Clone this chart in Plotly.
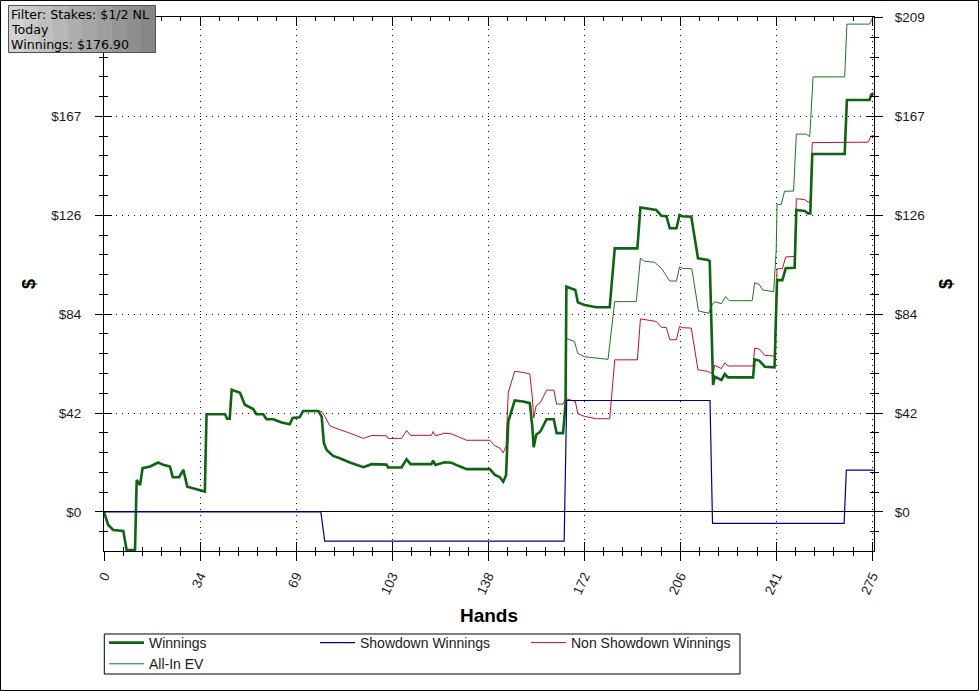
import plotly.graph_objects as go

# cumulative results as (hand, dollars) breakpoints
win_hands = [0, 1.5, 3.3, 6.9, 8.1, 11.1, 11.7, 12.9, 13.8, 16.5, 19.4, 21.2, 23.6, 24.6, 26.9,
             28.4, 29.8, 33.1, 36.1, 36.7, 43.3, 44.1, 45, 45.7, 48.7, 50.4, 53.4, 54.6, 57, 58.2,
             60.6, 63.6, 66.5, 67.5, 70, 71.3, 76.7, 77.9, 78.7, 79.7, 82, 84.4, 88, 92.8, 95.8,
             101.1, 101.7, 106.5, 108.3, 109.7, 117.2, 117.8, 118.6, 122, 124.4, 126.8, 129.8,
             138.1, 139.9, 141.7, 142.9, 143.9, 144.7, 147, 150, 152.4, 153.3, 153.8, 154.7, 156.2,
             158.4, 161, 162, 164.3, 165.2, 165.5, 168.7, 169.6, 172, 176.2, 181, 182.8, 190.9, 192,
             197.7, 199.5, 201.3, 202.5, 204.9, 206, 207, 210.2, 212.6, 216.2, 216.8, 218, 218.6,
             221, 222.2, 223.3, 232.3, 232.9, 234.5, 236.5, 240, 240.9, 242.8, 244, 247.2, 247.8,
             250.8, 252, 252.8, 253.5, 265.1, 265.9, 274, 274.6, 275.5]
win_vals = [0, -5.5, -7.6, -8, -16.1, -16.1, 13.5, 11.4, 18.5, 19.2, 20.9, 19.9, 19.2, 14.7, 14.7,
            17.8, 10.7, 9.6, 8.6, 41.3, 41.3, 39.4, 39.4, 51.6, 50.4, 45.3, 43.5, 41.3, 41.3, 39.2,
            39.2, 37.8, 37.1, 39.7, 40, 42.7, 42.7, 40.3, 29.1, 26.2, 23.7, 22.7, 20.9, 18.9, 20.2,
            20, 18.8, 18.8, 22.3, 20.2, 20.2, 21.7, 19.9, 21, 20.8, 19.5, 18.1,
            18.1, 15.7, 14.7, 12.8, 15.5, 38.2, 47.1, 46.7, 46, 36.1, 27.4, 32.6, 34,
            39.2, 39.2, 33.3, 33.3, 46, 95.2, 93.8, 88.6, 87.5, 86.5, 86.5, 111.4, 111.4, 128.7,
            127.6, 125.2, 125, 119.9, 119.9, 125.5, 125, 124.8, 107.2, 106.5, 106, 53.7, 57.2,
            55.8, 58.3, 56.9, 56.9, 64.5, 64, 61.4, 61.1, 98, 98, 103, 103.2, 127.6,
            127.2, 126.2, 126.2, 151.3, 151.3, 174.1, 174.1, 176.5, 176.9]

sd_hands = [0, 77.6, 79, 164.7, 165.6, 216.9, 217.8, 264.9, 265.7, 275.5]
sd_vals = [0, 0, -12.3, -12.3, 47.1, 47.1, -4.8, -4.8, 17.7, 17.7]

nsd_hands = [0, 1.5, 3.3, 6.9, 8.1, 11.1, 11.7, 12.9, 13.8, 16.5, 19.4, 21.2, 23.6, 24.6, 26.9,
             28.4, 29.8, 33.1, 36.1, 36.7, 43.3, 44.1, 45, 45.7, 48.7, 50.4, 53.4, 54.6, 57, 58.2,
             60.6, 63.6, 66.5, 67.5, 70, 71.3, 76.7, 77.9, 79.1, 80.8, 82, 84.4, 88, 92.8, 95.8,
             101.1, 101.7, 106.5, 108.3, 109.7, 117.2, 117.8, 118.6, 122, 124.4, 126.8, 129.8,
             138.1, 139.9, 141.7, 142.9, 143.9, 144.7, 147, 150, 152.4, 153.3, 153.8, 154.7, 156.2,
             158.4, 161, 162, 164.3, 165.2, 168.7, 169.6, 172, 176.2, 181, 182.8, 190.9, 192,
             197.7, 199.5, 201.3, 202.5, 204.9, 206, 207, 210.2, 212.6, 216.2, 216.9, 218, 218.6,
             221, 222.2, 223.3, 232.3, 232.9, 234.5, 236.5, 240, 240.9, 242.8, 244, 247.2, 247.8,
             250.8, 252, 252.8, 253.5, 273.5, 274.6, 275.5]
nsd_vals = [0, -5.5, -7.6, -8, -16.1, -16.1, 13.5, 11.4, 18.5, 19.2, 20.9, 19.9, 19.2, 14.7, 14.7,
            17.8, 10.7, 9.6, 8.6, 41.3, 41.3, 39.4, 39.4, 51.6, 50.4, 45.3, 43.5, 41.3, 41.3, 39.2,
            39.2, 37.8, 37.1, 39.7, 40, 42.7, 42.7, 42.5, 40.3, 36.5, 35.8, 34.9, 33.3, 31.1, 32.3,
            32.2, 31.1, 31.1, 34.4, 32.4, 32.4, 34, 32.2, 33.3, 33, 31.8, 30.3,
            30.3, 28, 27, 25, 27.8, 50.5, 59.4, 59, 58.3, 48.4, 39.7, 44.9, 46.3,
            51.5, 51.5, 45.6, 45.6, 48, 46.7, 41.5, 40.4, 39.4, 39.4, 64.3, 64.3, 81.6,
            80.5, 78.1, 77.9, 72.8, 72.8, 78.4, 77.9, 77.7, 60.1, 59.4, 58.9, 58.5, 62,
            60.6, 63.1, 61.7, 61.7, 69.3, 68.8, 66.2, 65.9, 102.8, 102.8, 107.8, 108, 132.4,
            132, 131, 131, 156.1, 156.3, 158.9, 159.2]

ev_hands = [0, 1.5, 3.3, 6.9, 8.1, 11.1, 11.7, 12.9, 13.8, 16.5, 19.4, 21.2, 23.6, 24.6, 26.9,
            28.4, 29.8, 33.1, 36.1, 36.7, 43.3, 44.1, 45, 45.7, 48.7, 50.4, 53.4, 54.6, 57, 58.2,
            60.6, 63.6, 66.5, 67.5, 70, 71.3, 76.7, 77.9, 78.7, 79.7, 82, 84.4, 88, 92.8, 95.8,
            101.1, 101.7, 106.5, 108.3, 109.7, 117.2, 117.8, 118.6, 122, 124.4, 126.8, 129.8,
            138.1, 139.9, 141.7, 142.9, 143.9, 144.7, 147, 150, 152.4, 153.3, 153.8, 154.7, 156.2,
            158.4, 161, 162, 164.3, 165.2, 165.5, 168.4, 169.6, 172, 180.4, 182.8, 190.5, 192,
            193.5, 197.1, 199.5, 202.5, 204.9, 206, 207, 210.4, 212.8, 216.5, 217.6, 218.6, 221,
            222.5, 223.8, 232, 232.9, 234.5, 235.8, 239.7, 240.6, 240.9, 242.4, 243.6, 246.8,
            247.8, 251.4, 252.6, 253.8, 265.1, 265.9, 274, 275, 275.5]
ev_vals = [0, -5.5, -7.6, -8, -16.1, -16.1, 13.5, 11.4, 18.5, 19.2, 20.9, 19.9, 19.2, 14.7, 14.7,
           17.8, 10.7, 9.6, 8.6, 41.3, 41.3, 39.4, 39.4, 51.6, 50.4, 45.3, 43.5, 41.3, 41.3, 39.2,
           39.2, 37.8, 37.1, 39.7, 40, 42.7, 42.7, 40.3, 29.1, 26.2, 23.7, 22.7, 20.9, 18.9, 20.2,
           20, 18.8, 18.8, 22.3, 20.2, 20.2, 21.7, 19.9, 21, 20.8, 19.5, 18.1,
           18.1, 15.7, 14.7, 12.8, 15.5, 38.2, 47.1, 46.7, 46, 36.1, 27.4, 32.6, 34,
           39.2, 39.2, 33.3, 33.3, 45, 73.4, 72, 67, 65.6, 64.5, 88.9, 88.9, 107.2,
           106, 105.5, 103, 97.6, 97.6, 103.6, 103, 102.8, 84.9, 84, 87.5, 88.9, 88,
           91, 89.3, 89.3, 96.9, 96.2, 93.8, 93.1, 110.7, 130, 130, 135.6, 135.6,
           159.7, 159.7, 158.6, 183.9, 183.9, 206.2, 206.2, 208.6, 209]

x_tickvals = [0, 34.375, 68.75, 103.125, 137.5, 171.875, 206.25, 240.625, 275]
x_ticktext = ["0", "34", "69", "103", "138", "172", "206", "241", "275"]
y_tickvals = [0, 41.8, 83.6, 125.4, 167.2, 209]
y_ticktext = ["$0", "$42", "$84", "$126", "$167", "$209"]
# the filter box hides the top label on the left side
y_ticktext_left = ["$0", "$42", "$84", "$126", "$167", ""]

filter_lines = ["Filter: Stakes: $1/2 NL", "Today", "Winnings: $176.90"]

FONT = "Liberation Sans, Arial, sans-serif"
X_RANGE = [0, 275.6]
Y_RANGE = [-16.5, 209.2]

fig = go.Figure()
fig.add_trace(go.Scatter(x=nsd_hands, y=nsd_vals, mode="lines", name="Non Showdown Winnings",
                         line=dict(color="#c4102a", width=1), legendrank=3))
fig.add_trace(go.Scatter(x=ev_hands, y=ev_vals, mode="lines", name="All-In EV",
                         line=dict(color="#237323", width=1), legendrank=4))
fig.add_trace(go.Scatter(x=win_hands, y=win_vals, mode="lines", name="Winnings",
                         line=dict(color="#0f6414", width=2.6), legendrank=1))
fig.add_trace(go.Scatter(x=sd_hands, y=sd_vals, mode="lines", name="Showdown Winnings",
                         line=dict(color="#000090", width=1.2), legendrank=2))

# empty traces so the extra tick-only axes get drawn
for xa, ya in [("x2", "y2"), ("x3", "y3"), ("x", "y4")]:
    fig.add_trace(go.Scatter(x=[0], y=[0], xaxis=xa, yaxis=ya, mode="lines",
                             showlegend=False, hoverinfo="skip", line=dict(width=0)))

tickfont = dict(family=FONT, size=13.5, color="#1a1a1a")
x_minor = dict(tickmode="linear", tick0=0, dtick=6.875, ticklen=4, tickcolor="black", showgrid=False)
y_minor = dict(tickmode="linear", tick0=0, dtick=8.36, ticklen=4, tickcolor="black", showgrid=False)
x_base = dict(range=X_RANGE, tickmode="array", tickvals=x_tickvals, ticktext=x_ticktext,
              tickcolor="black", ticklen=9, zeroline=False, fixedrange=True)
y_base = dict(range=Y_RANGE, tickmode="array", tickvals=y_tickvals,
              tickcolor="black", ticklen=8, fixedrange=True)

fig.update_layout(
    width=979, height=691,
    margin=dict(l=104, r=105, t=17, b=140, autoexpand=False),
    paper_bgcolor="white", plot_bgcolor="white",
    font=dict(family=FONT, size=13, color="#1a1a1a"),
    showlegend=True,
    xaxis=dict(**x_base, ticks="outside", tickangle=-65, tickfont=tickfont, ticklabelstandoff=2,
               showline=True, linecolor="black", linewidth=1,
               showgrid=True, gridcolor="black", gridwidth=1, griddash="1px,5px",
               minor=dict(ticks="outside", **x_minor),
               title=dict(text="<b>Hands</b>", font=dict(family=FONT, size=19, color="black"),
                          standoff=12)),
    xaxis2=dict(**x_base, overlaying="x", side="bottom", anchor="y", ticks="inside",
                showticklabels=False, showline=False, showgrid=False,
                minor=dict(ticks="inside", **x_minor)),
    xaxis3=dict(**x_base, overlaying="x", side="top", anchor="y", ticks="inside",
                showticklabels=False, showline=True, linecolor="black", linewidth=1,
                showgrid=False, minor=dict(ticks="inside", **x_minor)),
    yaxis=dict(**y_base, ticktext=y_ticktext_left, ticks="outside", tickfont=tickfont,
               ticklabelstandoff=11,
               showline=True, linecolor="black", linewidth=1,
               showgrid=True, gridcolor="black", gridwidth=1, griddash="1px,5px",
               zeroline=True, zerolinecolor="black", zerolinewidth=1,
               minor=dict(ticks="outside", **y_minor),
               title=dict(text="<b>$</b>", font=dict(family=FONT, size=18, color="black"),
                          standoff=10)),
    yaxis2=dict(**y_base, ticktext=y_ticktext, overlaying="y", side="left", anchor="x",
                ticks="inside", showticklabels=False, showline=False, showgrid=False,
                zeroline=False, minor=dict(ticks="inside", **y_minor)),
    yaxis3=dict(**y_base, ticktext=y_ticktext, overlaying="y", side="right", anchor="x",
                ticks="outside", tickfont=tickfont, ticklabelstandoff=9,
                showline=True, linecolor="black", linewidth=1, showgrid=False, zeroline=False,
                minor=dict(ticks="outside", **y_minor),
                title=dict(text="<b>$</b>", font=dict(family=FONT, size=18, color="black"),
                           standoff=15)),
    yaxis4=dict(**y_base, ticktext=y_ticktext, overlaying="y", side="right", anchor="x",
                ticks="inside", showticklabels=False, showline=False, showgrid=False,
                zeroline=False, minor=dict(ticks="inside", **y_minor)),
    legend=dict(orientation="h", x=0, xanchor="left", y=-0.1423, yanchor="top",
                entrywidth=161, entrywidthmode="pixels", itemwidth=35,
                borderwidth=0, bgcolor="rgba(0,0,0,0)",
                font=dict(family=FONT, size=14, color="#1a1a1a"), traceorder="normal"),
)

# legend frame, drawn separately so it sits tight around the entries
fig.add_shape(type="rect", xref="paper", yref="paper",
              x0=0.0004, x1=0.82597, y0=-0.23034, y1=-0.15543,
              line=dict(color="black", width=1), fillcolor="rgba(0,0,0,0)", layer="above")

# outer frame of the picture
fig.add_shape(type="rect", xref="paper", yref="paper",
              x0=-0.13442, x1=1.13571, y0=-0.26124, y1=1.03090,
              line=dict(color="black", width=1), fillcolor="rgba(0,0,0,0)", layer="above")

# grey filter box in the top-left corner (stepped gradient)
box_greys = ["#d2d2d2", "#c9c9c9", "#c0c0c0", "#b7b7b7", "#aeaeae",
             "#a6a6a6", "#9e9e9e", "#969696", "#8e8e8e", "#878787"]
bx0, bx1, by0, by1 = -0.12403, 0.06688, 0.93352, 1.02154
step = (bx1 - bx0) / len(box_greys)
for i, grey in enumerate(box_greys):
    fig.add_shape(type="rect", xref="paper", yref="paper",
                  x0=bx0 + i * step, x1=bx0 + (i + 1) * step + 0.0005, y0=by0, y1=by1,
                  line=dict(width=0), fillcolor=grey, layer="above")
fig.add_shape(type="rect", xref="paper", yref="paper", x0=bx0, x1=bx1, y0=by0, y1=by1,
              line=dict(color="#505050", width=1), fillcolor="rgba(0,0,0,0)", layer="above")
for i, line_text in enumerate(filter_lines):
    fig.add_annotation(xref="paper", yref="paper", x=-0.1216, y=1.0215 - i * 15 / 534,
                       xanchor="left", yanchor="top", align="left", showarrow=False, borderpad=0,
                       text=line_text,
                       font=dict(family="DejaVu Sans, Verdana, sans-serif", size=12.6,
                                 color="black"))

fig.write_html("out.html", config={"displayModeBar": False},
               post_script="document.body.style.margin = '0';")
